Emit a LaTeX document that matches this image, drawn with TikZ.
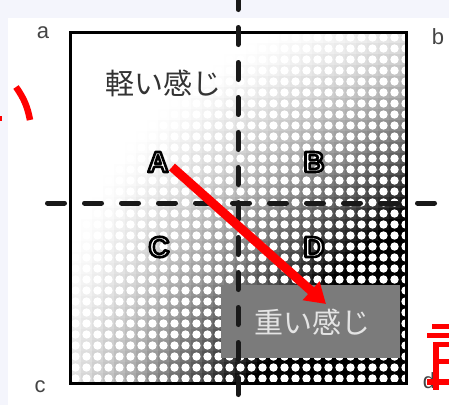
\documentclass[tikz,border=0pt]{standalone}
\usepackage{fontspec}
\setmainfont{Liberation Sans}
\newfontfamily\jpfont{Noto Sans CJK JP}
\usetikzlibrary{arrows.meta}
\definecolor{bgl}{HTML}{F4F5FC}
\definecolor{boxgray}{HTML}{7B7B7B}
\definecolor{boxtext}{HTML}{E4E4E4}
\definecolor{labgray}{HTML}{444444}
\definecolor{txtdark}{HTML}{333333}
\tikzset{
  divline/.style={line width=5pt, line cap=round, black!90},
  corner/.style={font=\fontsize{22}{22}\selectfont, text=labgray, inner sep=0pt},
  quad/.style={font=\fontsize{29}{29}\selectfont\bfseries, inner sep=0pt, text=white},
  jptext/.style={font=\jpfont\fontsize{29}{29}\selectfont, inner sep=0pt},
  redmark/.style={fill=red},
}
\newcommand{\quadletter}[1]{\special{pdf:literal direct 0 G 2 Tr 2.6 w 1 j}#1\special{pdf:literal direct 0 Tr}}
\begin{document}
\begin{tikzpicture}[x=1pt,y=-1pt]
\useasboundingbox (0,0) rectangle (449,405);
% background
\fill[bgl] (0,0) rectangle (449,405);
\fill[white] (8,18) rectangle (449,405);
% dot pattern
\begin{scope}
\clip (70,32) rectangle (406,383);
\foreach \i in {0,...,30} {
  \foreach \j in {0,...,31} {
    \pgfmathsetmacro\px{75.5+11*\i}
    \pgfmathsetmacro\py{37.5+11*\j}
    \pgfmathsetmacro\uu{(\px-70)/336}
    \pgfmathsetmacro\vv{(\py-32)/351}
    \pgfmathsetmacro\ee{max(0.0001,min(1,0.5*(\uu+\vv)-0.3+\uu*\vv))}
    \pgfmathsetmacro\dd{100*\ee^1.4}
    \fill[black!\dd!white] (\px-5.7,\py-5.7) rectangle (\px+5.7,\py+5.7);
    \fill[white] (\px,\py) circle (4.2pt);
  }
}
\end{scope}
% frame
\node[draw, line width=3pt, minimum width=336pt, minimum height=351pt, inner sep=0pt] (frame) at (238,207.5) {};
% heavy box
\node[fill=boxgray, minimum width=179pt, minimum height=73pt, inner sep=0pt] (heavybox) at (310.5,321.5) {};
% dashed dividers
\coordinate (vtop) at (238,-7.5);
\coordinate (vbot) at (238,410);
\coordinate (hleft) at (47.5,203);
\coordinate (hright) at (437,203);
\draw[divline, dash pattern=on 17pt off 18pt] (vtop) -- (vbot);
\draw[divline, dash pattern=on 17pt off 20pt] (hleft) -- (hright);
% texts
\node[jptext, text=txtdark] (light) at (163,83) {軽い感じ};
\node[jptext, text=boxtext] (heavy) at (312,322) {重い感じ};
\node[quad] (A) at (158,162) {\quadletter{A}};
\node[quad] (B) at (314,162) {\quadletter{B}};
\node[quad] (C) at (159,247) {\quadletter{C}};
\node[quad] (D) at (314,247) {\quadletter{D}};
\node[corner] (la) at (43,33) {a};
\node[corner] (lb) at (438,37) {b};
\node[corner] (lc) at (40,387) {c};
\node[corner] (ld) at (429,381) {d};
% arrow
\coordinate (arrs) at (172,167);
\coordinate (arre) at (326,304);
\draw[red, line width=9pt, -{Triangle[width=24pt,length=20pt]}] (arrs) -- (arre);
% cropped red marks at the edges
\draw[red, line width=6.5pt] (16,87) to[bend left=12] (30,120);
\fill[red] (0,116) rectangle (2,121);
\fill[redmark] (432,324) rectangle (449,329);
\fill[redmark] (427,333) rectangle (449,338);
\fill[redmark] (433,342) rectangle (449,347);
\fill[redmark] (433,342) rectangle (439,390);
\fill[redmark] (433,359) rectangle (449,364);
\fill[redmark] (427,379) rectangle (449,385);
\end{tikzpicture}
\end{document}
